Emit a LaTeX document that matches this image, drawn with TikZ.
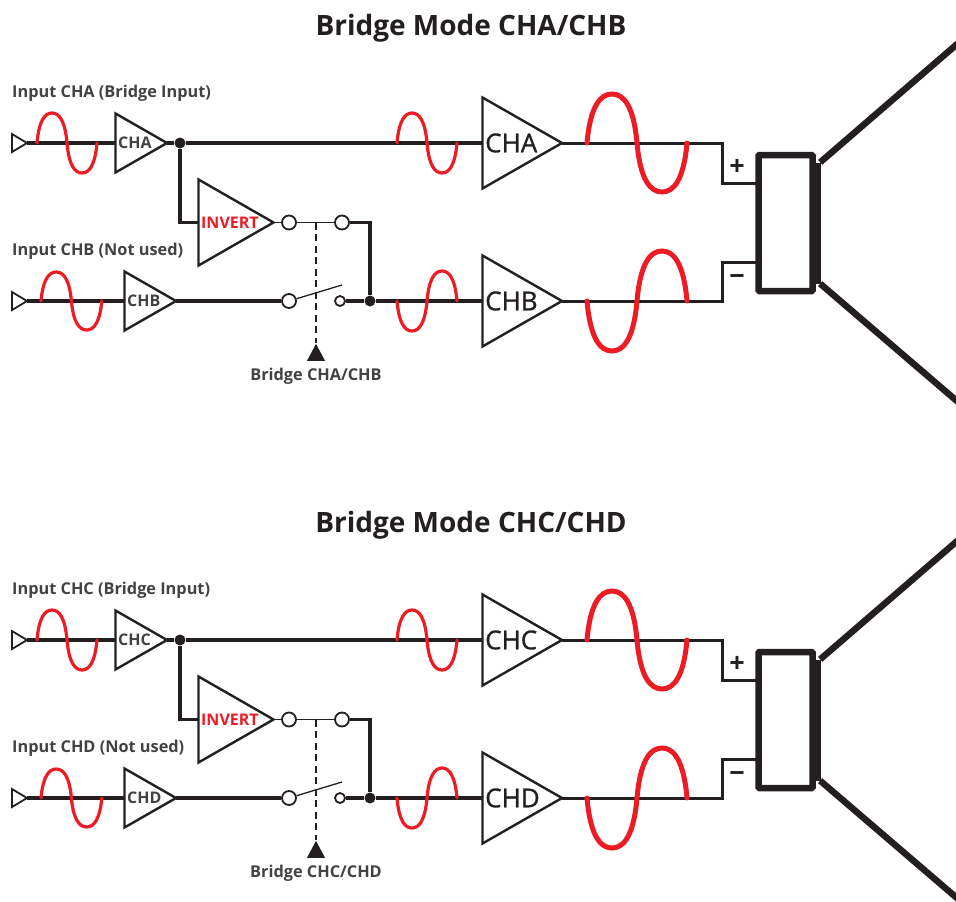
\documentclass[tikz,border=0pt]{standalone}
\usepackage{fontspec}
\setmainfont{Open Sans}
\newfontfamily\ampfont[FakeBold=1]{Open Sans}
\usepackage{xcolor}
\usetikzlibrary{shapes.geometric, positioning, calc}
\definecolor{inkblack}{HTML}{231F20}
\definecolor{wavered}{HTML}{ED1C24}
\tikzset{
  amp/.style={draw=inkblack, fill=white, line width=2.4pt, isosceles triangle, isosceles triangle stretches,
    shape border rotate=0, inner sep=0pt, outer sep=0pt, anchor=lower side},
  ampsmall/.style={amp, minimum width=59pt, minimum height=51.5pt},
  ampinvert/.style={amp, minimum width=86pt, minimum height=75pt},
  ampbig/.style={amp, minimum width=91pt, minimum height=79.5pt},
  inputtri/.style={amp, line width=1.8pt, minimum width=18pt, minimum height=15pt},
  wire/.style={draw=inkblack, line width=3.4pt},
  thinwire/.style={draw=inkblack, line width=1.3pt},
  junction/.style={circle, fill=inkblack, inner sep=0pt, minimum size=11pt},
  contact/.style={circle, draw=inkblack, fill=white, line width=1.8pt, inner sep=0pt, minimum size=14pt},
  contactsmall/.style={contact, minimum size=10pt},
  wave/.style={draw=wavered, line width=3.2pt, line cap=round},
  wavebig/.style={wave, line width=5pt},
  titletext/.style={font=\fontsize{28}{30}\selectfont\bfseries, text=inkblack, anchor=base, inner sep=0pt},
  inlabel/.style={font=\fontsize{16.3}{18}\selectfont\bfseries, text=inkblack!85, anchor=base west, inner sep=0pt},
  amplabel/.style={font=\fontsize{16}{18}\selectfont\bfseries, text=inkblack!85, anchor=west, inner sep=0pt},
  biglabel/.style={font=\fontsize{26}{28}\ampfont, text=inkblack, anchor=west, inner sep=0pt},
}
% one full period of the signal: start x, start y, quarter width, height
\newcommand{\sinewave}[5]{%
  \draw[#5, shift={(#1,#2)}, xscale=#3, yscale=#4] (0,0)
    .. controls (.13,.75) and (.53,1) .. (1,1)
    .. controls (1.47,1) and (1.87,.75) .. (2,0)
    .. controls (2.13,-.75) and (2.53,-1) .. (3,-1)
    .. controls (3.47,-1) and (3.87,-.75) .. (4,0);
}

\begin{document}
\begin{tikzpicture}[x=1pt, y=-1pt]
  \useasboundingbox (0,0) rectangle (956,902);
  \foreach \oy/\ca/\cb in {0/A/B, 497/C/D} {
  \begin{scope}[shift={(0,\oy)}]
    \node[titletext] (title\ca) at (471,35) {Bridge Mode CH\ca/CH\cb};
    \node[inlabel] (label\ca) at (12,97) {Input CH\ca\ (Bridge Input)};
    \node[inlabel] (label\cb) at (12,255) {Input CH\cb\ (Not used)};

    % input and first stage
    \node[inputtri] (in\ca) at (12,143) {};
    \node[inputtri] (in\cb) at (12,301) {};
    \node[ampsmall] (pre\ca) at (115.5,143) {};
    \node[ampsmall] (pre\cb) at (124.5,301) {};
    \node[ampinvert] (invert) at (198.5,222.5) {};
    \node[ampbig] (power\ca) at (482.5,143) {};
    \node[ampbig] (power\cb) at (482.5,301) {};
    \node[amplabel] (pretext\ca) at (118,143) {CH\ca};
    \node[amplabel] (pretext\cb) at (127,301) {CH\cb};
    \node[amplabel, text=wavered] (inverttext) at (201,222.5) {INVERT};
    \node[biglabel] (powertext\ca) at (485,143) {CH\ca};
    \node[biglabel] (powertext\cb) at (485,301) {CH\cb};

    \node[junction] (split) at (180,143) {};
    \node[junction] (merge) at (370,301) {};
    \node[contact] (swtopl) at (289,222.5) {};
    \node[contact] (swtopr) at (342,222.5) {};
    \node[contact] (swlowl) at (289,301) {};
    \node[contactsmall] (swlowr) at (340,301) {};
    \coordinate (swblade) at (342,285);
    \coordinate (ganghead) at (316,222.5);

    \node[isosceles triangle, isosceles triangle stretches, shape border rotate=90, fill=inkblack,
      inner sep=0pt, minimum width=18pt, minimum height=17pt, anchor=lower side] (gang) at (316,361) {};
    \node[inlabel, anchor=base] (ganglabel) at (316,380) {Bridge CH\ca/CH\cb};

    % wiring
    \draw[wire] (in\ca.apex) -- (pre\ca.lower side);
    \draw[wire] (in\cb.apex) -- (pre\cb.lower side);
    \draw[wire] (pre\ca.apex) -- (split) -- (power\ca.lower side);
    \draw[wire] (split) |- (invert.lower side);
    \draw[wire] (pre\cb.apex) -- (swlowl);
    \draw[wire] (swtopr) -| (merge);
    \draw[wire] (swlowr) -- (merge) -- (power\cb.lower side);
    \draw[thinwire] (invert.apex) -- (swtopl);
    \draw[thinwire] (swtopl) -- (swtopr);
    \draw[thinwire] (swlowl) -- (swblade);
    \draw[thinwire, line width=1.5pt, dash pattern=on 7pt off 4.5pt] (ganghead) -- (gang.apex);

    % speaker
    \node[draw=inkblack, fill=white, line width=6.5pt, minimum width=54pt, minimum height=136pt, inner sep=0pt, rounded corners=1pt] (coil) at (785.5,223) {};
    \node[fill=inkblack, inner sep=0pt, minimum width=6pt, minimum height=121pt] (plate) at (818,223) {};
    \coordinate (coneA) at (1000,7);
    \coordinate (coneB) at (1000,438);
    \coordinate (bend\ca) at (722,143);
    \coordinate (bend\cb) at (722,301);
    \coordinate (tap\ca) at (757,183);
    \coordinate (tap\cb) at (757,262.5);
    \draw[wire, line width=3pt] (power\ca.apex) -- (bend\ca) |- (tap\ca);
    \draw[wire, line width=3pt] (power\cb.apex) -- (bend\cb) |- (tap\cb);
    \draw[inkblack, line width=6.5pt] (plate.north east) ++(-1,0) -- (coneA);
    \draw[inkblack, line width=6.5pt] (plate.south east) ++(-1,0) -- (coneB);
    \node[font=\fontsize{27}{28}\selectfont\bfseries, text=inkblack, inner sep=0pt] (plus) at (737,167) {+};
    \node[font=\fontsize{27}{28}\selectfont\bfseries, text=inkblack, inner sep=0pt] (minus) at (737,280) {−};

    % signals
    \sinewave{37}{143}{15}{-30}{wave}
    \sinewave{41}{301}{15.2}{-29}{wave}
    \sinewave{397}{143}{15}{-30}{wave}
    \sinewave{397}{301}{15}{30}{wave}
    \sinewave{587}{143}{25}{-49}{wavebig}
    \sinewave{587}{301}{25}{50}{wavebig}
  \end{scope}
  }
\end{tikzpicture}
\end{document}
